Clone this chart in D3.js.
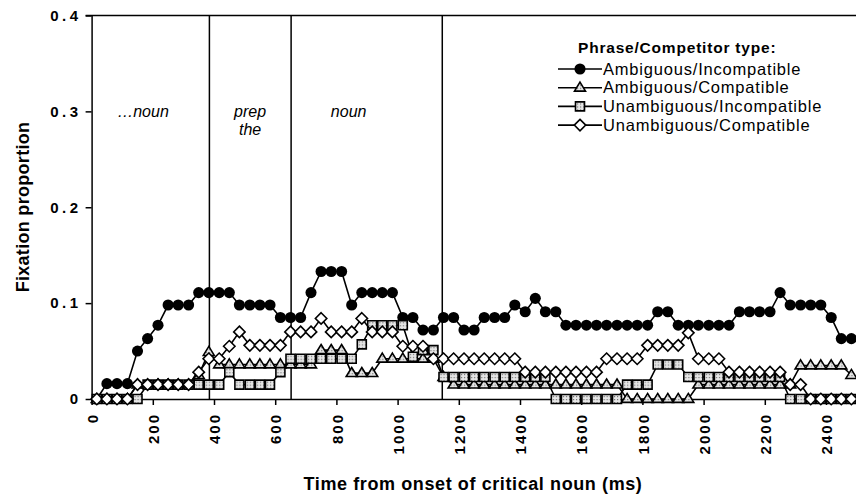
<!DOCTYPE html>
<html><head><meta charset="utf-8">
<script src="https://cdn.jsdelivr.net/npm/d3@7"></script>
<style>
html,body{margin:0;padding:0;background:#fff;}
svg{display:block;font-family:"Liberation Sans",Arial,sans-serif;}
</style></head>
<body><svg id="c" width="856" height="497"></svg>
<script>
// ---- data ----
const times = [17,50,83,117,150,183,217,250,283,317,350,383,417,450,483,517,550,583,617,650,683,717,750,783,817,850,883,917,950,983,1017,1050,1083,1117,1150,1183,1217,1250,1283,1317,1350,1383,1417,1450,1483,1517,1550,1583,1617,1650,1683,1717,1750,1783,1817,1850,1883,1917,1950,1983,2017,2050,2083,2117,2150,2183,2217,2250,2283,2317,2350,2383,2417,2450,2483];
const seriesNames = ["Ambiguous/Incompatible","Ambiguous/Compatible","Unambiguous/Incompatible","Unambiguous/Compatible"];
const ambIncomp = [0,.016,.016,.016,.050,.063,.077,.098,.098,.098,.111,.111,.111,.111,.098,.098,.098,.098,.085,.085,.085,.111,.133,.133,.133,.098,.111,.111,.111,.111,.085,.085,.072,.072,.085,.085,.072,.072,.085,.085,.085,.098,.091,.105,.091,.091,.077,.077,.077,.077,.077,.077,.077,.077,.077,.091,.091,.077,.077,.077,.077,.077,.077,.091,.091,.091,.091,.111,.098,.098,.098,.098,.085,.063,.063];
const ambComp = [0,0,0,0,.015,.015,.015,.015,.015,.015,.025,.049,.036,.036,.036,.036,.036,.036,.036,.036,.036,.036,.051,.051,.051,.027,.027,.027,.042,.042,.042,.042,.042,.042,.023,.015,.015,.015,.015,.015,.015,.015,.015,.015,.015,.015,.015,.015,.015,.015,.015,.015,0,0,0,0,0,0,0,.015,.015,.015,.015,.015,.015,.015,.015,.015,.015,.035,.035,.035,.035,.035,.025];
const unambIncomp = [0,0,0,0,0,.015,.015,.015,.015,.015,.015,.015,.015,.028,.015,.015,.015,.015,.028,.042,.042,.042,.042,.042,.042,.042,.057,.077,.077,.077,.077,.044,.051,.051,.023,.023,.023,.023,.023,.023,.023,.023,.023,.023,.023,0,0,0,0,0,0,0,.015,.015,.015,.036,.036,.036,.023,.023,.023,.023,.023,.023,.023,.023,.023,.023,0,0,0,0,0,0,0];
const unambComp = [0,0,0,0,.015,.015,.015,.015,.015,.015,.028,.042,.042,.055,.070,.056,.056,.056,.056,.070,.070,.070,.084,.070,.070,.070,.084,.070,.070,.070,.055,.055,.055,.042,.042,.042,.042,.042,.042,.042,.042,.042,.028,.028,.028,.028,.028,.028,.028,.028,.042,.042,.042,.042,.056,.056,.056,.056,.069,.042,.042,.042,.028,.028,.028,.028,.028,.028,.015,.015,0,0,0,0,0];
const yTicks = [0,0.1,0.2,0.3,0.4];
const yTickLabels = ["0","0.1","0.2","0.3","0.4"];
const xTicks = [0,200,400,600,800,1000,1200,1400,1600,1800,2000,2200,2400];
const regionBounds = [385,652,1146];
const regionLabels = [{t:168,lines:["\u2026noun"]},{t:518,lines:["prep","the"]},{t:840,lines:["noun"]}];
const legendTitle = "Phrase/Competitor type:";
const xTitle = "Time from onset of critical noun (ms)";
const yTitle = "Fixation proportion";

// ---- layout ----
const svg = d3.select("#c");
const L = 91.6, R = 856.6, T = 15.5, B = 399;
const x = d3.scaleLinear().domain([0,2500]).range([L,R]);
const y = d3.scaleLinear().domain([0,0.4]).range([B,T]);

const defs = svg.append("defs");
const pat = defs.append("pattern").attr("id","dots").attr("patternUnits","userSpaceOnUse").attr("width",3).attr("height",3);
pat.append("rect").attr("width",3).attr("height",3).attr("fill","#e6e6e6");
pat.append("rect").attr("width",1.2).attr("height",1.2).attr("fill","#777");
defs.append("clipPath").attr("id","clip").append("rect").attr("x",L-8).attr("y",T-8).attr("width",R-L+16).attr("height",B-T+16);

// top border
svg.append("line").attr("x1",L-6).attr("x2",R).attr("y1",y(0.4)).attr("y2",y(0.4)).attr("stroke","#000").attr("stroke-width",1.5);

// region separators
svg.selectAll(".sep").data(regionBounds).join("line")
  .attr("x1",d=>x(d)).attr("x2",d=>x(d)).attr("y1",T).attr("y2",B)
  .attr("stroke","#000").attr("stroke-width",1.5);

// region labels
regionLabels.forEach(r=>{
  r.lines.forEach((ln,i)=>{
    svg.append("text").attr("x",x(r.t)).attr("y",y(0.3)+6+i*18)
      .attr("text-anchor","middle").attr("font-style","italic").attr("font-size",16).text(ln);
  });
});

// axes
const yAxis = d3.axisLeft(y).tickValues(yTicks).tickFormat((d,i)=>yTickLabels[i]).tickSize(6).tickSizeOuter(0);
const gy = svg.append("g").attr("transform",`translate(${L},0)`).call(yAxis);
gy.select(".domain").attr("stroke-width",1.5);
gy.selectAll(".tick line").attr("stroke-width",1.5);
gy.selectAll("text").attr("font-size",15).attr("font-weight","bold").attr("letter-spacing","3.5px")
  .attr("font-family","Liberation Sans,Arial,sans-serif").attr("x",-10).attr("fill","#000");

const xAxis = d3.axisBottom(x).tickValues(xTicks).tickFormat(d3.format("d")).tickSize(6).tickSizeOuter(0);
const gx = svg.append("g").attr("transform",`translate(0,${B})`).call(xAxis);
gx.select(".domain").attr("stroke-width",1.5);
gx.selectAll(".tick line").attr("stroke-width",1.5);
gx.selectAll("text").attr("font-size",15).attr("font-weight","bold").attr("letter-spacing","2px")
  .attr("font-family","Liberation Sans,Arial,sans-serif").attr("fill","#000")
  .attr("transform","rotate(-90)").attr("text-anchor","end").attr("x",-14).attr("y",0).attr("dy","0.38em");

// titles
svg.append("text").attr("x",473).attr("y",490).attr("text-anchor","middle").attr("font-weight","bold").attr("font-size",18).attr("letter-spacing","0.6px").text(xTitle);
svg.append("text").attr("transform",`translate(29,207) rotate(-90)`).attr("text-anchor","middle").attr("font-weight","bold").attr("font-size",18).attr("letter-spacing","0.3px").text(yTitle);

// markers
function markerPath(kind, s){
  if(kind==="circle") return d3.symbol(d3.symbolCircle, s*s*0.8)();
  if(kind==="triangle"){const h=s*0.9, w=s*0.55; return `M0,${-h*0.62}L${w},${h*0.38}L${-w},${h*0.38}Z`;}
  if(kind==="square"){const a=s*0.45; return `M${-a},${-a}H${a}V${a}H${-a}Z`;}
  const a=s*0.52; return `M0,${-a}L${a},0L0,${a}L${-a},0Z`;
}
const series = [
  {name:seriesNames[0], vals:ambIncomp, kind:"circle", fill:"#000", size:11},
  {name:seriesNames[1], vals:ambComp, kind:"triangle", fill:"url(#dots)", size:10},
  {name:seriesNames[2], vals:unambIncomp, kind:"square", fill:"url(#dots)", size:10},
  {name:seriesNames[3], vals:unambComp, kind:"diamond", fill:"#fff", size:11}
];
const plot = svg.append("g").attr("clip-path","url(#clip)");
const line = d3.line().x((d,i)=>x(times[i])).y(d=>y(d));
series.forEach(s=>{
  const g = plot.append("g");
  g.append("path").datum(s.vals).attr("d",line).attr("fill","none").attr("stroke","#000").attr("stroke-width",1.6);
  g.selectAll("path.m").data(s.vals).join("path").attr("class","m")
    .attr("transform",(d,i)=>`translate(${x(times[i])},${y(d)})`)
    .attr("d",markerPath(s.kind,s.size)).attr("fill",s.fill).attr("stroke","#000").attr("stroke-width",s.kind==="circle"?0:1.6);
});

// legend
const lg = svg.append("g");
lg.append("text").attr("x",578).attr("y",53).attr("font-weight","bold").attr("font-size",15.5).attr("letter-spacing","0.8px").text(legendTitle);
series.forEach((s,i)=>{
  const yy = 69 + i*18.7;
  lg.append("line").attr("x1",558).attr("x2",602).attr("y1",yy).attr("y2",yy).attr("stroke","#000").attr("stroke-width",1.6);
  lg.append("path").attr("transform",`translate(580,${yy})`).attr("d",markerPath(s.kind,s.size)).attr("fill",s.fill).attr("stroke","#000").attr("stroke-width",s.kind==="circle"?0:1.6);
  lg.append("text").attr("x",603).attr("y",yy+5.5).attr("font-size",16.5).attr("letter-spacing","0.8px").text(s.name);
});
</script></body></html>
